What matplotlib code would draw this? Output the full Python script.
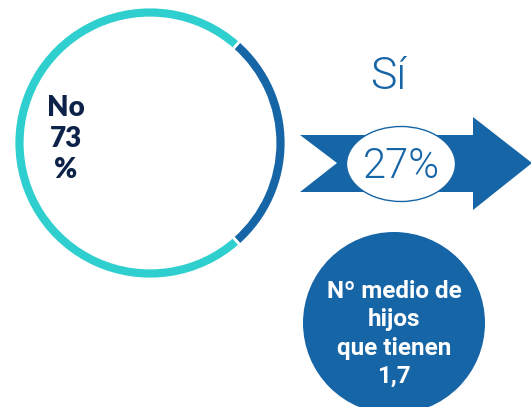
import matplotlib
matplotlib.use("Agg")
import matplotlib.pyplot as plt
from matplotlib.patches import Polygon, Ellipse, Circle

# data
shares = [27, 73]            # Sí, No
share_labels = ["Sí", "No"]
avg_children = "1,7"

TURQ = "#2ecfce"
BLUE = "#1665a7"
NAVY = "#0c2248"

fig = plt.figure(figsize=(5.31, 4.07), dpi=100)
ax = fig.add_axes([0, 0, 1, 1])

# ring: dark slice centred on the right side
start = -shares[0] / 100 * 360 / 2
ax.pie(shares, colors=[BLUE, TURQ], startangle=start, center=(150, 143), radius=136,
       wedgeprops=dict(width=11, edgecolor="white", linewidth=2))

ax.text(66, 139, f"{share_labels[1]}\n{shares[1]}\n%", ha="center", va="center",
        fontsize=20, fontweight="heavy", color=NAVY, family="Lato", linespacing=1.25)

# arrow
arrow = Polygon([(300, 135), (473, 135), (473, 117), (532, 163), (473, 210),
                 (473, 192), (300, 192), (337, 163)], closed=True, color=BLUE, lw=0)
ax.add_patch(arrow)
ax.add_patch(Ellipse((401, 164), 109, 75, facecolor="white", edgecolor=BLUE, lw=1))
ax.text(401, 166, f"{shares[0]}%", ha="center", va="center", fontsize=30,
        fontweight=300, color=BLUE, family="Roboto")
ax.text(388, 77, share_labels[0], ha="center", va="center", fontsize=32,
        fontweight=300, color=BLUE, family="Roboto")

# average children bubble
ax.add_patch(Circle((394, 323), 91, color=BLUE, lw=0))
ax.text(394, 334, f"Nº medio de\nhijos\nque tienen\n{avg_children}", ha="center", va="center",
        fontsize=17.5, fontweight="semibold", color="white", family="Roboto", linespacing=1.3)

ax.set_xlim(0, 531)
ax.set_ylim(407, 0)
ax.set_aspect("equal")
ax.axis("off")

fig.savefig("out.png", dpi=100)
